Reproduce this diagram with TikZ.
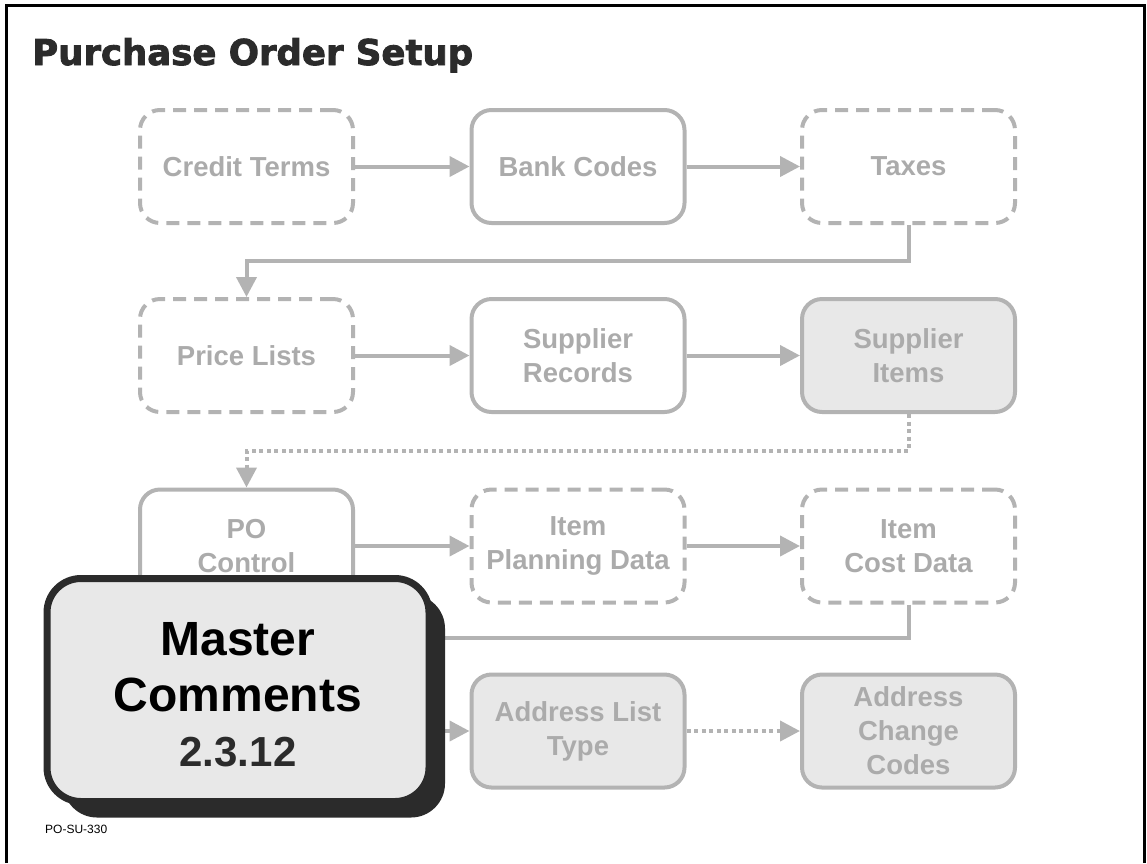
\documentclass[tikz,border=0pt]{standalone}
\usepackage{fontspec}
\setmainfont{Liberation Sans}
\newfontfamily\titlefont[FakeBold=2.5]{DejaVu Sans Bold}
\usetikzlibrary{arrows.meta,shadows}
\definecolor{linegray}{HTML}{B3B3B3}
\definecolor{txtgray}{HTML}{ABABAB}
\definecolor{boxfill}{HTML}{E8E8E8}
\definecolor{darkink}{HTML}{2B2B2B}
\tikzset{
  box/.style={draw=linegray, line width=4pt, rounded corners=20pt,
    minimum width=213pt, minimum height=113pt, inner sep=0pt, align=center,
    text=txtgray, font=\fontsize{27.5}{34}\selectfont\bfseries},
  dashbox/.style={box, dash pattern=on 13pt off 8pt},
  fillbox/.style={box, fill=boxfill},
  conn/.style={draw=linegray, line width=4pt,
    -{Triangle[length=20pt,width=20pt]}, color=linegray},
  dotconn/.style={conn, dash pattern=on 4pt off 3.5pt},
}
\begin{document}
\begin{tikzpicture}[x=1pt,y=-1pt]
\useasboundingbox (0,0) rectangle (1147,863);
% page frame, open at the bottom
\draw[line width=3pt, black] (6,863) -- (6,5) -- (1144.5,5) -- (1144.5,863);
% title
\node[anchor=base west, inner sep=0pt, text=darkink,
      font=\titlefont\fontsize{35.5}{40}\selectfont] (title) at (32,65) {Purchase Order Setup};

% row 1
\node[dashbox] (ct) at (246.5,166.5) {Credit Terms};
\node[box]     (bc) at (578,166.5)   {Bank Codes};
\node[dashbox] (tx) at (908.5,166.5) {Taxes};
% row 2
\node[dashbox]  (pl) at (246.5,355.5) {Price Lists};
\node[box]      (sr) at (578,355.5)   {Supplier\\Records};
\node[fillbox]  (si) at (908.5,355.5) {Supplier\\Items};
% row 3
\node[box]     (po)  at (246.5,546) {PO\\Control};
\node[dashbox] (ipd) at (578,546)   {Item\\Planning Data};
\node[dashbox] (icd) at (908.5,546) {Item\\Cost Data};
% row 4
\coordinate (r4n) at (246.5,672);
\coordinate (r4e) at (355,731);
\node[fillbox] (alt) at (578,731)   {Address List\\Type};
\node[fillbox] (acc) at (908.5,731) {Address\\Change\\Codes};

% connectors
\draw[conn] (ct) -- (bc);
\draw[conn] (bc) -- (tx);
\draw[conn] (tx.south) -- ++(0,36) -| (pl.north);
\draw[conn] (pl) -- (sr);
\draw[conn] (sr) -- (si);
\draw[dotconn] (si.south) -- ++(0,37) -| (po.north);
\draw[conn] (po) -- (ipd);
\draw[conn] (ipd) -- (icd);
\draw[conn] (icd.south) -- ++(0,33) -| (r4n);
\draw[conn] (r4e) -- (alt.west);
\draw[dotconn] (alt) -- (acc);

% highlighted step
\node[draw=darkink, line width=7pt, fill=boxfill, rounded corners=34pt,
      minimum width=382pt, minimum height=223pt, inner sep=0pt, align=center,
      drop shadow={shadow xshift=16pt, shadow yshift=-16pt, fill=darkink, opacity=1},
      font=\fontsize{48}{56}\selectfont\bfseries] (mc) at (238,690)
  {\rule{0pt}{43pt}Master\\Comments\\[-1pt]{\fontsize{42}{52}\selectfont\color{darkink}2.3.12}};

\node[anchor=base west, inner sep=0pt, font=\fontsize{12}{14}\selectfont] (code) at (45,833) {PO-SU-330};
\end{tikzpicture}
\end{document}
